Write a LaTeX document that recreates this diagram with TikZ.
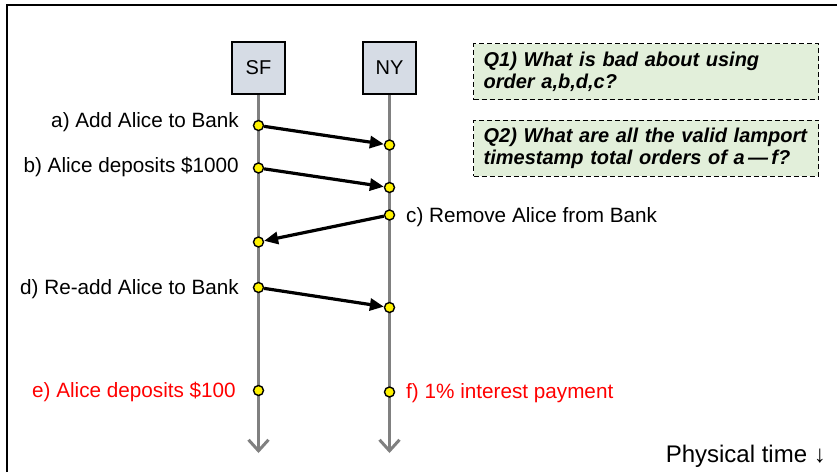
\documentclass[tikz,border=0pt]{standalone}
\usepackage{fontspec}
\setmainfont{Liberation Sans}
\usetikzlibrary{arrows.meta}
\definecolor{boxfill}{HTML}{D6DCE5}
\definecolor{qfill}{HTML}{E2EFDA}
\definecolor{lifegray}{HTML}{808080}
\begin{document}
\begin{tikzpicture}[x=1pt,y=-1pt,
  lbl/.style={font=\fontsize{20.7}{24}\selectfont, inner sep=0pt},
  redlbl/.style={lbl, text=red},
  proc/.style={draw=black, line width=2pt, fill=boxfill, minimum width=53pt, minimum height=52pt, inner sep=0pt, font=\fontsize{20}{24}\selectfont},
  ev/.style={circle, draw=black, line width=1.4pt, fill=yellow, minimum size=10pt, inner sep=0pt},
  msg/.style={-{Triangle[length=14pt,width=12pt]}, line width=3.2pt},
  lifeline/.style={draw=lifegray, line width=3pt, -{Straight Barb[length=11pt,width=20pt]}},
  qbox/.style={draw=black, dashed, dash pattern=on 5pt off 3pt, line width=1.3pt, fill=qfill, anchor=north west,
    text width=325pt, inner xsep=10pt, inner ysep=0pt, minimum height=56pt, align=left,
    font=\fontsize{20}{22.5}\selectfont\bfseries\itshape},
  frame/.style={line width=2pt, draw=black}]
\useasboundingbox (0,0) rectangle (837,472);
% frame
\coordinate (fbl) at (7,472);
\coordinate (ftl) at (7,5);
\coordinate (ftr) at (837,5);
\draw[frame] (fbl) -- (ftl) -- (ftr);
% processes
\node[proc] (sf) at (258.5,67.5) {SF};
\node[proc] (ny) at (389.5,67.5) {NY};
\coordinate (sfend) at (258.5,453);
\coordinate (nyend) at (389.5,453);
\draw[lifeline] (sf.south) -- (sfend);
\draw[lifeline] (ny.south) -- (nyend);
% events
\node[ev] (a1) at (258.5,125.5) {};
\node[ev] (a2) at (389.5,145) {};
\node[ev] (b1) at (258.5,168) {};
\node[ev] (b2) at (389.5,187.5) {};
\node[ev] (c1) at (389.5,215) {};
\node[ev] (c2) at (258.5,242) {};
\node[ev] (d1) at (258.5,287.5) {};
\node[ev] (d2) at (389.5,307.5) {};
\node[ev] (e1) at (258.5,390.5) {};
\node[ev] (f1) at (389.5,392) {};
% messages
\draw[msg] (a1) -- (a2);
\draw[msg] (b1) -- (b2);
\draw[msg] (c1) -- (c2);
\draw[msg] (d1) -- (d2);
% labels
\node[lbl, anchor=base east] (la) at (239,127.5) {a) Add Alice to Bank};
\node[lbl, anchor=base east] (lb) at (239,172.5) {b) Alice deposits \$1000};
\node[lbl, anchor=base west] (lc) at (406,222.5) {c) Remove Alice from Bank};
\node[lbl, anchor=base east] (ld) at (239,294) {d) Re-add Alice to Bank};
\node[redlbl, anchor=base east] (le) at (236,397) {e) Alice deposits \$100};
\node[redlbl, anchor=base west] (lf) at (406,398.5) {f) 1\% interest payment};
\node[lbl, anchor=base east, font=\fontsize{24}{27}\selectfont] (pt) at (826,462.5) {Physical time ↓};
% questions
\node[qbox, minimum width=345pt] (q1) at (473,43) {Q1) What is bad about using\\order a,b,d,c?};
\node[qbox, minimum width=345pt] (q2) at (473,119.5) {Q2) What are all the valid lamport\\timestamp total orders of a\,—\,f?};
\end{tikzpicture}
\end{document}
